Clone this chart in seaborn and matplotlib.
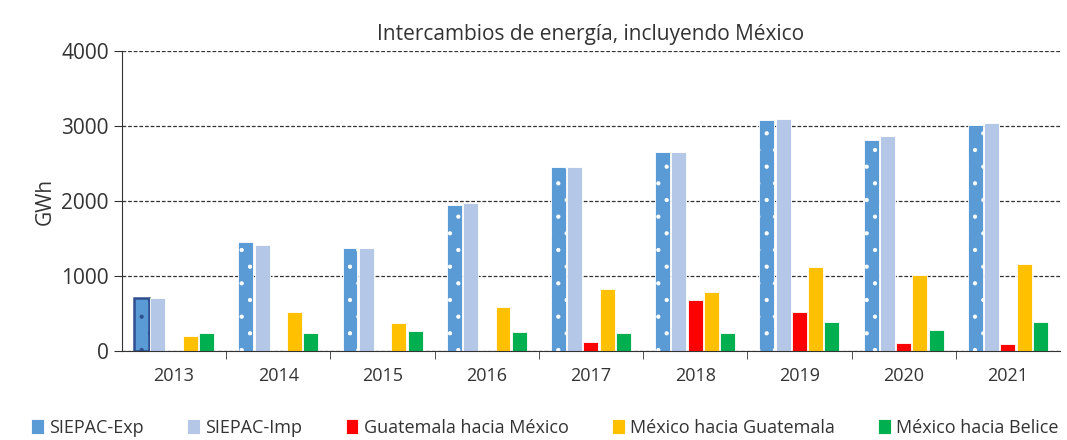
import pandas as pd
import matplotlib.pyplot as plt
import seaborn as sns

# datos (GWh)
anios = ['2013', '2014', '2015', '2016', '2017', '2018', '2019', '2020', '2021']
siepac_exp = [700, 1450, 1370, 1950, 2450, 2650, 3075, 2820, 3010]
siepac_imp = [700, 1415, 1370, 1975, 2450, 2650, 3100, 2870, 3035]
gt_mx = [0, 0, 0, 0, 115, 680, 520, 105, 90]
mx_gt = [200, 525, 370, 580, 825, 790, 1115, 1010, 1155]
mx_bz = [235, 235, 265, 250, 235, 235, 390, 275, 390]

series = ['SIEPAC-Exp', 'SIEPAC-Imp', 'Guatemala hacia México',
          'México hacia Guatemala', 'México hacia Belice']
colores = ['#5b9bd5', '#b4c7e7', '#ff0000', '#ffc000', '#00b050']

valores = [siepac_exp, siepac_imp, gt_mx, mx_gt, mx_bz]
filas = []
for nombre, vals in zip(series, valores):
    for a, v in zip(anios, vals):
        filas.append({'anio': a, 'serie': nombre, 'GWh': v})
df = pd.DataFrame(filas)

sns.set_style('white')
plt.rcParams['font.family'] = ['Open Sans', 'DejaVu Sans']
plt.rcParams['hatch.color'] = 'white'
plt.rcParams['hatch.linewidth'] = 0.6

fig = plt.figure(figsize=(10.67, 4.4), dpi=100)
ax = fig.add_axes([0.1143, 0.2023, 0.8791, 0.6817])

sns.barplot(data=df, x='anio', y='GWh', hue='serie', hue_order=series,
            palette=colores, width=0.78, gap=0.08, ax=ax,
            edgecolor='white', linewidth=0.6, saturation=1)

# puntos blancos en SIEPAC-Exp
for barra in ax.containers[0]:
    barra.set_hatch('.')
# barra 2013 seleccionada con borde oscuro
ax.containers[0][0].set_edgecolor('#2f4f8f')
ax.containers[0][0].set_linewidth(1.8)

ax.set_ylim(0, 4000)
ax.set_yticks([0, 1000, 2000, 3000, 4000])
ax.set_xlim(-0.5, len(anios) - 0.5)
ax.yaxis.grid(True, linestyle=(0, (3, 1.5)), color='#333333', linewidth=0.9)
ax.set_axisbelow(True)
ax.set_xlabel('')
ax.set_ylabel('GWh', fontsize=15, color='#333333')
ax.set_title('Intercambios de energía, incluyendo México', fontsize=15,
             color='#333333', pad=8)

for s in ['top', 'right']:
    ax.spines[s].set_visible(False)
ax.spines['left'].set_color('#333333')
ax.spines['bottom'].set_color('#333333')

ax.tick_params(axis='y', left=True, length=6, color='#333333', labelsize=15, labelcolor='#333333')
ax.tick_params(axis='x', bottom=False, labelsize=13, labelcolor='#333333', pad=8)
# marcas entre categorías
ax.set_xticks([i + 0.5 for i in range(len(anios) - 1)], minor=True)
ax.tick_params(axis='x', which='minor', bottom=True, length=6, color='#333333')

leg = ax.legend(loc='center', bbox_to_anchor=(0.451, -0.257), ncol=5,
                frameon=False, fontsize=13, handlelength=0.7, handleheight=0.9,
                handletextpad=0.3, columnspacing=2.4, labelcolor='#333333')

fig.savefig('out.png', dpi=100)
